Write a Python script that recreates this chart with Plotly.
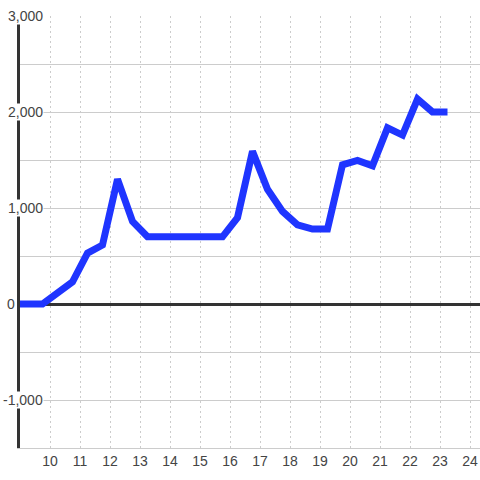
import plotly.graph_objects as go

# hour of day and running value
hours = [9, 9.75, 10.75, 11.25, 11.75, 12.25, 12.75, 13.25, 15.75, 16.25, 16.75,
         17.25, 17.75, 18.25, 18.75, 19.25, 19.75, 20.25, 20.75, 21.25, 21.75,
         22.25, 22.75, 23.25]
values = [0, 0, 230, 530, 615, 1300, 860, 700, 700, 900, 1590,
          1195, 965, 825, 780, 780, 1450, 1495, 1440, 1835, 1760,
          2135, 2000, 2000]

x_ticks = list(range(10, 25))
y_labels = [-1000, 0, 1000, 2000, 3000]

TEXT = '#444444'
GRID = '#cccccc'
AXIS = '#333333'

fig = go.Figure()

fig.add_trace(go.Scatter(
    x=hours,
    y=values,
    mode='lines',
    line=dict(color='#1f35ff', width=7),
    hoverinfo='skip',
    showlegend=False
))

# y tick labels sit on a white box over the axis line
for v in y_labels:
    fig.add_annotation(
        x=9, xref='x', xanchor='right',
        y=v, yref='y', yanchor='middle',
        xshift=-4 if v == 0 else 24,
        text=f'{v:,}',
        showarrow=False,
        bgcolor='white',
        borderpad=0,
        font=dict(family='Liberation Sans, Arial, sans-serif', size=14, color=TEXT)
    )

fig.update_layout(
    width=480,
    height=480,
    margin=dict(l=20, r=0, t=16, b=32, autoexpand=False),
    paper_bgcolor='white',
    plot_bgcolor='white',
    font=dict(family='Liberation Sans, Arial, sans-serif', size=14, color=TEXT),
    xaxis=dict(
        range=[9, 24.3333],
        tickvals=x_ticks,
        ticktext=[str(t) for t in x_ticks],
        showgrid=True,
        gridcolor=GRID,
        griddash='2px,3px',
        gridwidth=1,
        showline=True,
        linecolor=GRID,
        linewidth=1,
        zeroline=False,
        ticks='',
        automargin=False,
        fixedrange=True
    ),
    yaxis=dict(
        range=[-1500, 3000],
        dtick=500,
        tick0=0,
        showticklabels=False,
        showgrid=True,
        gridcolor=GRID,
        gridwidth=1,
        zeroline=True,
        zerolinecolor=AXIS,
        zerolinewidth=3,
        showline=True,
        linecolor=AXIS,
        linewidth=3,
        ticks='',
        automargin=False,
        fixedrange=True
    )
)

fig.write_html(
    "out.html",
    config={'displayModeBar': False},
    post_script="document.body.style.margin='0';"
)
